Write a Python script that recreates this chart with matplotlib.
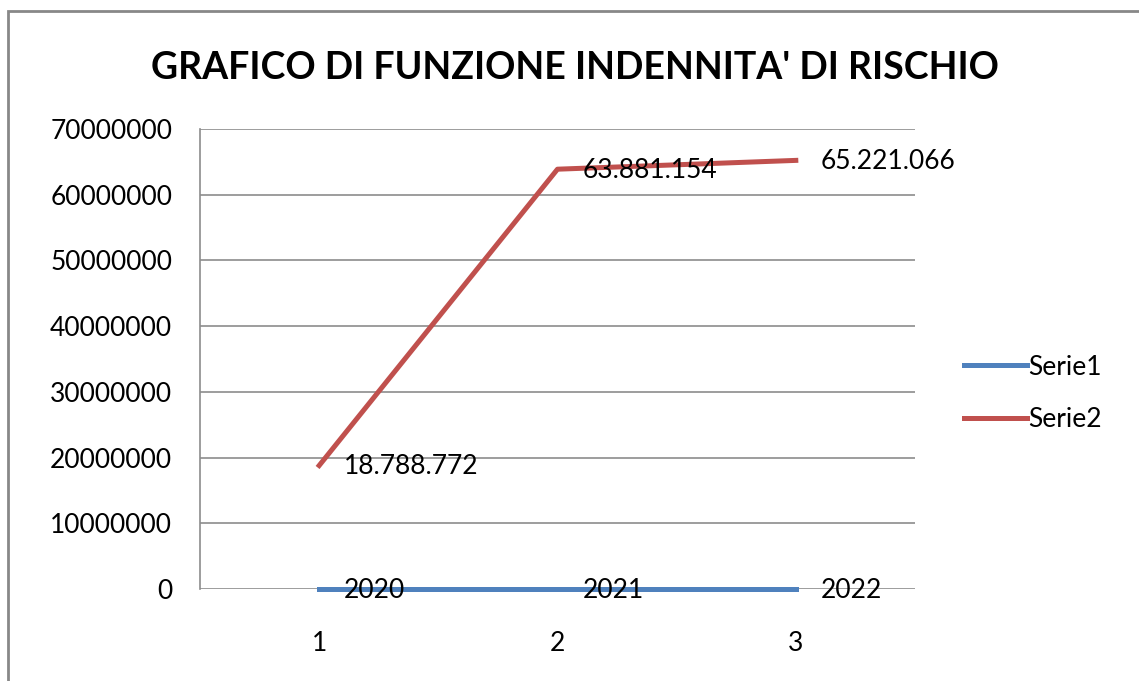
import matplotlib.pyplot as plt
from matplotlib.patches import Rectangle

plt.rcParams['font.family'] = ['Lato', 'DejaVu Sans']

categories = [1, 2, 3]
serie1 = [2020, 2021, 2022]
serie2 = [18788772, 63881154, 65221066]
serie1_labels = ['2020', '2021', '2022']
serie2_labels = ['18.788.772', '63.881.154', '65.221.066']
yticks = [0, 10000000, 20000000, 30000000, 40000000, 50000000, 60000000, 70000000]

fig = plt.figure(figsize=(11.39, 6.81), dpi=100)
ax = fig.add_axes([0.1756, 0.1351, 0.6277, 0.6755])

blue = '#4F81BD'
red = '#C0504D'
fs = 19

ax.plot(categories, serie1, color=blue, lw=3.6, label='Serie1', clip_on=False)
ax.plot(categories, serie2, color=red, lw=3.6, label='Serie2', clip_on=False)

for x, y, t in zip(categories, serie1, serie1_labels):
    ax.annotate(t, (x, y), xytext=(18, -1), textcoords='offset points',
                ha='left', va='center', fontsize=fs)
for x, y, t in zip(categories, serie2, serie2_labels):
    ax.annotate(t, (x, y), xytext=(18, -1), textcoords='offset points',
                ha='left', va='center', fontsize=fs)

ax.set_xlim(0.5, 3.5)
ax.set_ylim(0, 70000000)
ax.set_yticks(yticks)
ax.set_yticklabels([str(v) for v in yticks])
ax.set_xticks(categories)
ax.set_xticklabels([str(c) for c in categories])
ax.tick_params(axis='both', length=0, labelsize=fs)
ax.tick_params(axis='y', pad=20)
ax.tick_params(axis='x', pad=30)
ax.grid(axis='y', color='#8c8c8c', lw=1.2)
ax.set_axisbelow(True)
for s in ['top', 'right', 'bottom']:
    ax.spines[s].set_visible(False)
ax.spines['left'].set_color('#8c8c8c')
ax.spines['left'].set_linewidth(1.2)

fig.suptitle("GRAFICO DI FUNZIONE INDENNITA' DI RISCHIO", x=0.505, y=0.925,
             fontsize=27, fontweight='bold')

ax.legend(loc='center left', bbox_to_anchor=(1.035, 0.425), frameon=False,
          fontsize=fs, handlelength=2.4, handletextpad=0.05, labelspacing=1.05)

fig.patches.append(Rectangle((8 / 1139, -0.1), 1.2, 1 - 11 / 681 + 0.1,
                             transform=fig.transFigure, fill=False,
                             edgecolor='#888888', lw=2))

fig.savefig('out.png', dpi=100)
